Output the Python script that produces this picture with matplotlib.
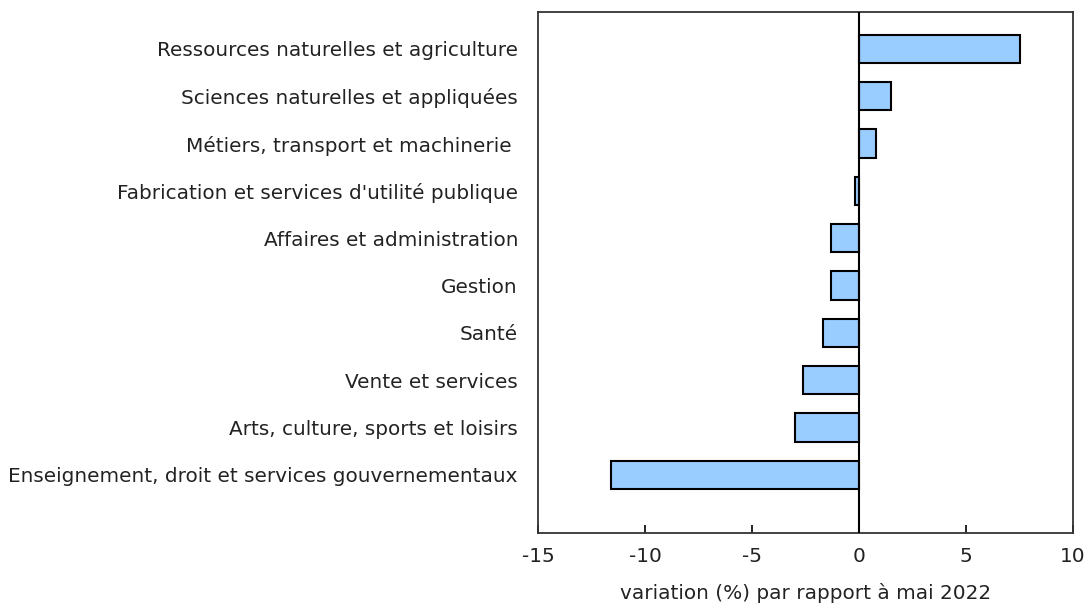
import matplotlib
matplotlib.use("Agg")
import matplotlib.pyplot as plt

categories = [
    "Ressources naturelles et agriculture",
    "Sciences naturelles et appliquées",
    "Métiers, transport et machinerie ",
    "Fabrication et services d'utilité publique",
    "Affaires et administration",
    "Gestion",
    "Santé",
    "Vente et services",
    "Arts, culture, sports et loisirs",
    "Enseignement, droit et services gouvernementaux",
]
values = [7.5, 1.5, 0.8, -0.2, -1.3, -1.3, -1.7, -2.6, -3.0, -11.6]
xticks = [-15, -10, -5, 0, 5, 10]
xlabel = "variation (%) par rapport à mai 2022"

plt.rcParams['font.family'] = ['DejaVu Sans']
fig = plt.figure(figsize=(10.88, 6.04), dpi=100)
ax = fig.add_axes([538/1088, 1-533/604, (1073-538)/1088, (533-12)/604])

pos = list(range(len(categories)))
ax.barh(pos, values, height=0.6, color="#99CCFF", edgecolor="black", linewidth=1.5, zorder=2)
ax.axvline(0, color="black", linewidth=1.5, zorder=3)

ax.set_xlim(-15, 10)
ax.set_ylim(len(categories) - 1 + 1.23, -0.78)
ax.set_xticks(xticks)
ax.set_xticklabels([str(t) for t in xticks])
ax.set_yticks(pos)
ax.set_yticklabels(categories)
ax.tick_params(axis='y', length=0, pad=14.4, labelsize=14.4, labelcolor="#222222")
ax.tick_params(axis='x', direction='in', length=6, width=1.2, pad=10, labelsize=14.4, labelcolor="#222222")
ax.set_xlabel(xlabel, fontsize=14.4, labelpad=12, color="#222222")
for s in ax.spines.values():
    s.set_color("#333333")
    s.set_linewidth(1.3)

fig.savefig("out.png", dpi=100)
